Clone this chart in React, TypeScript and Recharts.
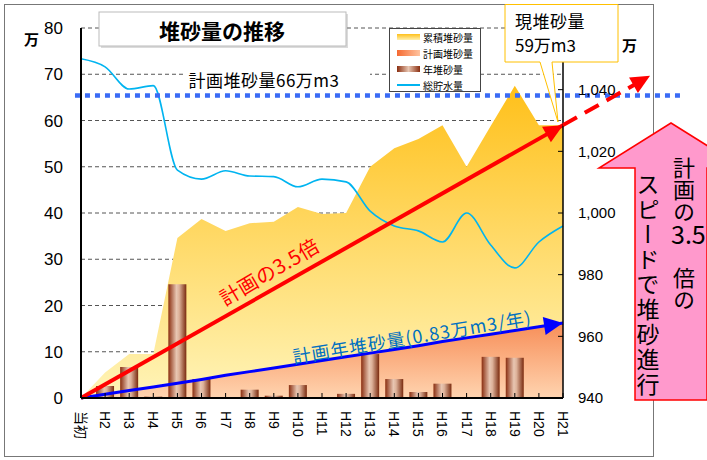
import React from 'react'
import { ComposedChart, Area, Bar, Line, XAxis, YAxis, CartesianGrid, ReferenceLine } from 'recharts'

// 年度ラベル
const categories = ['当初', 'H2', 'H3', 'H4', 'H5', 'H6', 'H7', 'H8', 'H9', 'H10', 'H11', 'H12', 'H13', 'H14', 'H15', 'H16', 'H17', 'H18', 'H19', 'H20', 'H21']
// 累積堆砂量（万m3）
const cumulative = [0, 5.5, 9.5, 9.5, 34.6, 38.7, 36.1, 37.8, 38.1, 41.3, 39.8, 40, 50, 54, 56, 59, 50, 58.8, 67.5, 59, 59]
// 計画堆砂量（万m3）
const planned = [0, 0.8, 1.6, 2.4, 3.2, 4.0, 4.9, 5.7, 6.5, 7.3, 8.1, 8.9, 9.7, 10.5, 11.3, 12.2, 13.0, 13.8, 14.6, 15.4, 16.2]
// 年堆砂量（万m3）
const annual = [0, 2.6, 6.7, 0.3, 24.6, 4.1, 0, 1.8, 0.5, 2.8, 0, 0.9, 9.5, 4.1, 1.3, 3.1, 0, 8.9, 8.7, 0, 0]
// 総貯水量（万m3、右軸）
const storage = [1050, 1047.4, 1040.2, 1041.3, 1013.9, 1011, 1013.7, 1012, 1011.8, 1008.5, 1011, 1010.1, 1000.6, 995.8, 994.2, 990.6, 1000, 989.6, 982.2, 990.6, 995.8]
// 計画の3.5倍ペース（当初→現在）
const pace35 = [0, null, null, null, null, null, null, null, null, null, null, null, null, null, null, null, null, null, null, null, 59]

const leftTicks = [0, 10, 20, 30, 40, 50, 60, 70, 80]
const rightTicks = [940, 960, 980, 1000, 1020, 1040]
const planLimit = 65.4

const data = categories.map((name, i) => ({
  i,
  name,
  cumulative: cumulative[i],
  planned: planned[i],
  annual: annual[i],
  storage: storage[i],
  pace: pace35[i],
}))

const JP = '"Noto Sans CJK JP", "Noto Sans", sans-serif'
const NUM = '"Liberation Sans", Arial, sans-serif'

// 矢印の先端（最後の点だけ描く）
function arrowDot(color: string, len: number, half: number, extend: boolean) {
  return (props: any) => {
    const { cx, cy, index, points } = props
    if (index !== categories.length - 1 || cx == null || cy == null) return <g key={`d-${index}`} />
    const start = (points || []).find((p: any) => p && p.y != null) || { x: cx - 100, y: cy + 50 }
    const a = Math.atan2(cy - start.y, cx - start.x)
    const ux = Math.cos(a)
    const uy = Math.sin(a)
    const tri = (tx: number, ty: number) => {
      const bx = tx - ux * len
      const by = ty - uy * len
      return `${tx},${ty} ${bx - uy * half},${by + ux * half} ${bx + uy * half},${by - ux * half}`
    }
    const ext = 100
    return (
      <g key={`d-${index}`}>
        <polygon points={tri(cx, cy)} fill={color} />
        {extend && (
          <>
            <line x1={cx} y1={cy} x2={cx + ux * (ext - len + 2)} y2={cy + uy * (ext - len + 2)} stroke={color} strokeWidth={4} strokeDasharray="16 9" />
            <polygon points={tri(cx + ux * ext, cy + uy * ext)} fill={color} />
          </>
        )}
      </g>
    )
  }
}

const XTick = (props: any) => {
  const { x, y, payload } = props
  return (
    <g>
      <line x1={x} y1={y} x2={x} y2={y - 5} stroke="#000" />
      <text x={x + 13} y={y} dy="0.36em" transform={`rotate(90 ${x} ${y})`} textAnchor="start" fontSize={14} fontFamily={`${NUM}, ${JP}`} fill="#000">
        {categories[payload.value]}
      </text>
    </g>
  )
}

const RightTick = (props: any) => {
  const { x, y, payload } = props
  return (
    <g>
      <line x1={x - 5} y1={y} x2={x} y2={y} stroke="#000" />
      <text x={x + 15} y={y} dy="0.36em" textAnchor="start" fontSize={15} fontFamily={NUM} fill="#000">
        {payload.value.toLocaleString('en-US')}
      </text>
    </g>
  )
}

const legendItems = [
  { label: '累積堆砂量', kind: 'cum' },
  { label: '計画堆砂量', kind: 'plan' },
  { label: '年堆砂量', kind: 'bar' },
  { label: '総貯水量', kind: 'line' },
]

export default function App() {
  return (
    <div style={{ position: 'absolute', left: 0, top: 0, width: 707, height: 460, background: '#fff' }}>
      <ComposedChart width={707} height={460} data={data} margin={{ top: 28, right: 84, bottom: 12, left: 41 }}>
        <defs>
          <linearGradient id="cumGrad" x1="0" y1="0" x2="0" y2="1">
            <stop offset="0%" stopColor="#FFC01A" />
            <stop offset="100%" stopColor="#FFF4B8" />
          </linearGradient>
          <linearGradient id="planGrad" x1="0" y1="0" x2="0" y2="1">
            <stop offset="0%" stopColor="#F78E58" />
            <stop offset="100%" stopColor="#FFD4B0" />
          </linearGradient>
          <linearGradient id="barGrad" x1="0" y1="0" x2="1" y2="0">
            <stop offset="0%" stopColor="#8A2E10" />
            <stop offset="45%" stopColor="#E8C6B2" />
            <stop offset="60%" stopColor="#DDB29A" />
            <stop offset="100%" stopColor="#7A2A0E" />
          </linearGradient>
        </defs>
        <CartesianGrid yAxisId="left" vertical={false} stroke="#555" strokeDasharray="4 3" />
        <XAxis
          dataKey="i"
          type="number"
          domain={[0, categories.length - 1]}
          ticks={categories.map((_, i) => i)}
          interval={0}
          tick={(p: any) => <XTick {...p} />}
          tickLine={false}
          tickSize={0}
          tickMargin={0}
          height={50}
          axisLine={{ stroke: '#000', strokeWidth: 2 }}
        />
        <YAxis
          yAxisId="left"
          domain={[0, 80]}
          ticks={leftTicks}
          width={40}
          tickLine={false}
          tickSize={0}
          tickMargin={18}
          axisLine={{ stroke: '#000', strokeWidth: 2 }}
          tick={{ fontSize: 17, fontFamily: NUM, fill: '#000' }}
        />
        <YAxis
          yAxisId="right"
          orientation="right"
          domain={[940, 1060]}
          ticks={rightTicks}
          width={60}
          tickLine={false}
          tickSize={0}
          tickMargin={0}
          axisLine={{ stroke: '#000', strokeWidth: 1.5 }}
          tick={(p: any) => <RightTick {...p} />}
        />
        <Area yAxisId="left" type="linear" dataKey="cumulative" stroke="none" fill="url(#cumGrad)" fillOpacity={1} isAnimationActive={false} />
        <Area yAxisId="left" type="linear" dataKey="planned" stroke="none" fill="url(#planGrad)" fillOpacity={1} isAnimationActive={false} />
        <Bar yAxisId="left" dataKey="annual" barSize={18} fill="url(#barGrad)" isAnimationActive={false} />
        <Line yAxisId="right" type="monotone" dataKey="storage" stroke="#00B4F0" strokeWidth={1.6} dot={false} isAnimationActive={false} />
        <Line yAxisId="left" type="linear" dataKey="planned" stroke="#0000FF" strokeWidth={3} dot={arrowDot('#0000FF', 19, 9, false)} activeDot={false} isAnimationActive={false} />
        <Line yAxisId="left" type="linear" dataKey="pace" connectNulls stroke="#FF0000" strokeWidth={4} dot={arrowDot('#FF0000', 19, 9, true)} activeDot={false} isAnimationActive={false} />
        <ReferenceLine
          yAxisId="left"
          segment={[{ x: -0.25, y: planLimit }, { x: 24.9, y: planLimit }]}
          ifOverflow="visible"
          stroke="#3A6BF5"
          strokeWidth={4.5}
          strokeDasharray="5 5"
        />
      </ComposedChart>

      <svg width={707} height={460} style={{ position: 'absolute', left: 0, top: 0, pointerEvents: 'none' }}>
        {/* 外枠 */}
        <rect x={4.5} y={4.5} width={649} height={452} fill="none" stroke="#777" />
        {/* タイトル */}
        <rect x={101} y={14} width={247} height={34} fill="#999" opacity={0.35} />
        <rect x={99} y={12} width={247} height={34} fill="#fff" stroke="#bbb" />
        <text x={222} y={30} dominantBaseline="central" textAnchor="middle" fontSize={21} fontWeight={600} fontFamily={JP}>堆砂量の推移</text>
        <text x={24} y={45} fontSize={15} fontWeight={700} fontFamily={JP}>万</text>
        <text x={622} y={51} fontSize={15} fontWeight={700} fontFamily={JP}>万</text>
        {/* 計画堆砂量ラベル */}
        <rect x={183} y={67} width={187} height={22} fill="#fff" />
        <text x={264} y={79} dominantBaseline="central" textAnchor="middle" fontSize={17} letterSpacing={0.5} fontFamily={JP}>計画堆砂量66万m3</text>
        {/* 凡例 */}
        <rect x={389.5} y={28.5} width={91} height={63} fill="#fff" stroke="#444" />
        {legendItems.map((it, k) => {
          const cy = 37 + k * 16
          return (
            <g key={it.label}>
              {it.kind === 'cum' && <rect x={397} y={cy - 3} width={23} height={6} fill="url(#lgCum)" />}
              {it.kind === 'plan' && <rect x={397} y={cy - 3} width={23} height={6} fill="url(#lgPlan)" />}
              {it.kind === 'bar' && <rect x={397} y={cy - 3} width={23} height={6} fill="url(#lgBar)" />}
              {it.kind === 'line' && <line x1={397} x2={420} y1={cy} y2={cy} stroke="#00B4F0" strokeWidth={2} />}
              <text x={423} y={cy} dominantBaseline="central" fontSize={10} fontFamily={JP}>{it.label}</text>
            </g>
          )
        })}
        <defs>
          <linearGradient id="lgCum" x1="0" y1="0" x2="0" y2="1">
            <stop offset="0%" stopColor="#FFC01A" />
            <stop offset="100%" stopColor="#FFF0B0" />
          </linearGradient>
          <linearGradient id="lgPlan" x1="0" y1="0" x2="1" y2="0">
            <stop offset="0%" stopColor="#F56A32" />
            <stop offset="100%" stopColor="#FFC4A0" />
          </linearGradient>
          <linearGradient id="lgBar" x1="0" y1="0" x2="1" y2="0">
            <stop offset="0%" stopColor="#8A2E10" />
            <stop offset="50%" stopColor="#E8C6B2" />
            <stop offset="100%" stopColor="#8A2E10" />
          </linearGradient>
        </defs>
        {/* 現堆砂量 吹き出し */}
        <polygon points="505,4.5 618,4.5 618,62 552,62 558,122 540,62 505,62" fill="#fff" stroke="#FFC000" strokeWidth={1} />
        <text x={515} y={20} dominantBaseline="central" fontSize={17} letterSpacing={0.5} fontFamily={JP}>現堆砂量</text>
        <text x={515} y={44} dominantBaseline="central" fontSize={17} fontFamily={JP}>59万m3</text>
        {/* 線上の説明 */}
        <text x={269} y={271} dominantBaseline="central" textAnchor="middle" transform="rotate(-30.4 269 271)" fontSize={20} letterSpacing={0.5} fill="#FF0000" fontFamily={JP}>計画の3.5倍</text>
        <text x={412} y={336} dominantBaseline="central" textAnchor="middle" transform="rotate(-9.5 412 336)" fontSize={18} letterSpacing={1} fill="#0070C0" fontFamily={JP}>計画年堆砂量(0.83万m3/年)</text>
        {/* ピンクの矢印 */}
        <polygon points="671,123 743,168 707,168 707,400 635,400 635,168 599,168" fill="#FF99CC" stroke="#FF0000" strokeWidth={1.5} />
        <text x={648} y={173} style={{ writingMode: 'vertical-rl' }} fontSize={23} letterSpacing={2} fontFamily={JP}>スピードで堆砂進行</text>
        <text x={684} y={157} style={{ writingMode: 'vertical-rl' }} fontSize={22} fontFamily={JP}>計画の</text>
        <text x={671} y={244} fontSize={25} fontFamily={JP}>3.5</text>
        <text x={684} y={267} style={{ writingMode: 'vertical-rl' }} fontSize={22} fontFamily={JP}>倍の</text>
      </svg>
    </div>
  )
}
